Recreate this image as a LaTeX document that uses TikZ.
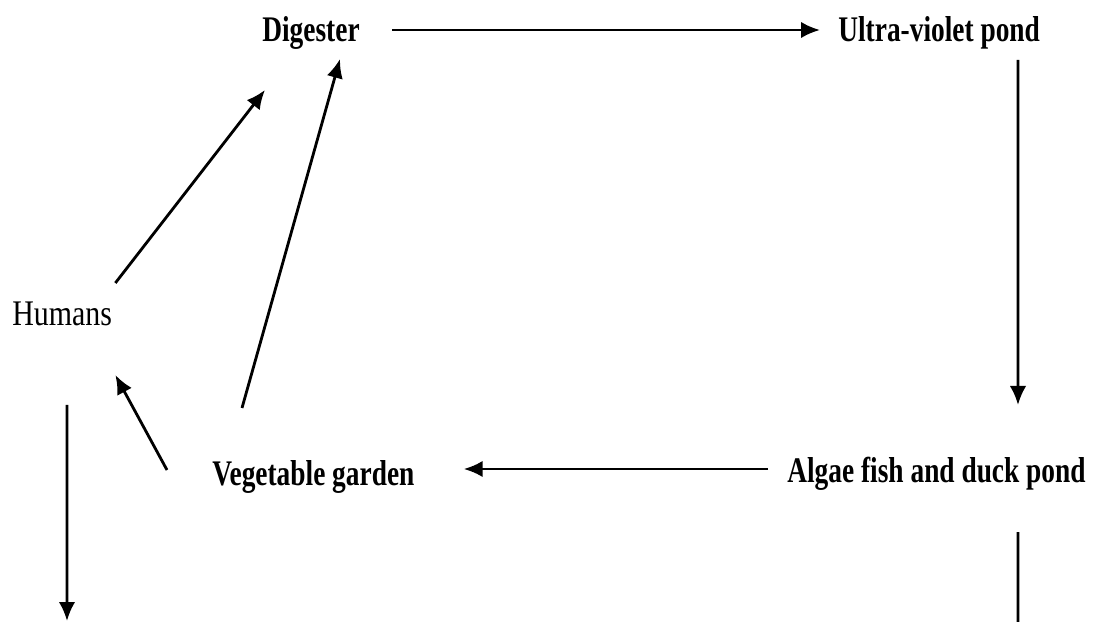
\documentclass[tikz,border=0pt]{standalone}
\usepackage{fontspec}
\usetikzlibrary{arrows.meta}
\newfontfamily\diagfont[FakeStretch=0.76]{Liberation Serif}
\newfontfamily\humfont[FakeStretch=0.83]{Liberation Serif}
\tikzset{
  stage/.style={draw=none, inner sep=0pt, anchor=base west, font=\diagfont\bfseries\fontsize{20.5pt}{24pt}\selectfont},
  stage plain/.style={stage, font=\humfont\fontsize{20.5pt}{24pt}\selectfont},
  flow/.style={-{Latex[length=3.8mm,width=3.3mm]}, line width=1.6pt},
  flow end/.style={line width=1.6pt}
}
\begin{document}
\begin{tikzpicture}[x=0.2mm, y=-0.2mm]
  \useasboundingbox (0,0) rectangle (1094,622);

  \node[stage] (dig) at (262,42) {Digester};
  \node[stage] (uv)  at (838,42) {Ultra-violet pond};
  \node[stage plain] (hum) at (12,326) {Humans};
  \node[stage] (veg) at (212,485) {Vegetable garden};
  \node[stage] (alg) at (787,483) {Algae fish and duck pond};

  \coordinate (humout) at (67,621);
  \coordinate (algout) at (1018,622);

  \draw[flow] ([xshift=6.4mm,yshift=2.4mm]dig.base east) -- ([xshift=-3.6mm,yshift=2.4mm]uv.base west);
  \draw[flow] ([xshift=36mm,yshift=-3.6mm]uv.base west) -- ([xshift=46.2mm,yshift=15.6mm]alg.base west);
  \draw[flow] ([xshift=-3.8mm,yshift=2.8mm]alg.base west) -- ([xshift=9.8mm,yshift=3.2mm]veg.base east);
  \draw[flow] ([xshift=6mm,yshift=15.4mm]veg.base west) -- ([xshift=15.6mm,yshift=-3.4mm]dig.base west);
  \draw[flow] ([xshift=-9mm,yshift=3mm]veg.base west) -- ([xshift=0.6mm,yshift=-9.8mm]hum.base east);
  \draw[flow] ([xshift=0.6mm,yshift=8.6mm]hum.base east) -- ([xshift=0.6mm,yshift=-9.6mm]dig.base west);
  \draw[flow] ([xshift=11mm,yshift=-15.8mm]hum.base west) -- (humout);
  \draw[flow end] ([xshift=46.2mm,yshift=-9.8mm]alg.base west) -- (algout);
\end{tikzpicture}
\end{document}
